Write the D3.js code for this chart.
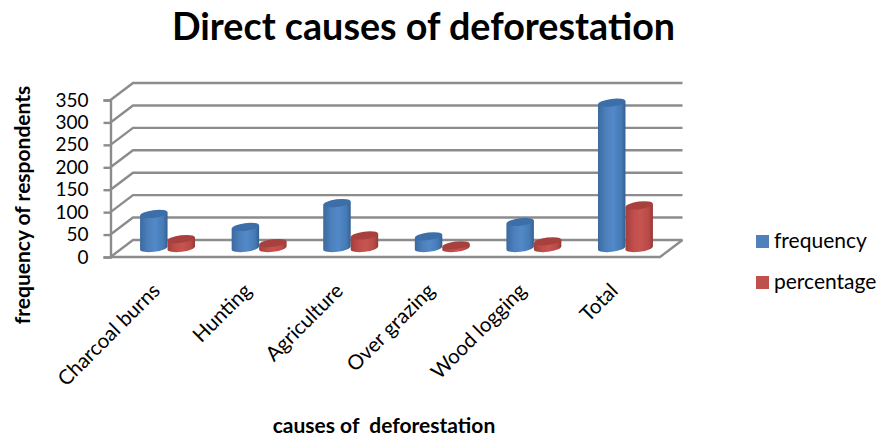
<!DOCTYPE html>
<html>
<head>
<meta charset="utf-8">
<script src="https://cdn.jsdelivr.net/npm/d3@7/dist/d3.min.js"></script>
<style>
html,body{margin:0;padding:0;background:#fff;}
svg{display:block;}
text{font-family:Lato,"Open Sans",sans-serif;fill:#000;}
</style>
</head>
<body>
<svg id="chart" width="886" height="437"></svg>
<script>
const categories = ["Charcoal burns","Hunting","Agriculture","Over grazing","Wood logging","Total"];
const frequency = [76,47,100,26,58,324];
const percentage = [20,11,28,6,15,95];
const yTicks = [0,50,100,150,200,250,300,350];
const seriesNames = ["frequency","percentage"];

const svg = d3.select("#chart");
const frontLeft = 110.5, frontRight = 660, floorY = 257, topY = 100;
const depthX = 22.5, depthY = 17;
const gridColor = "#8c8c8c";

const x = d3.scaleBand().domain(categories).range([frontLeft, frontRight]);
const y = d3.scaleLinear().domain([0,350]).range([floorY, topY]);

// Horizontal gradients give the cylinders their rounded shading
const defs = svg.append("defs");
function shade(id, stops){
  const g = defs.append("linearGradient").attr("id", id);
  stops.forEach(([o,c]) => g.append("stop").attr("offset", o).attr("stop-color", c));
}
shade("blueSide", [[0,"#3b6a9f"],[0.3,"#4d80bd"],[0.55,"#5289c8"],[0.85,"#457ab4"],[1,"#335f92"]]);
shade("redSide", [[0,"#a33f3c"],[0.3,"#c04e4b"],[0.55,"#c75450"],[0.85,"#b84a47"],[1,"#943936"]]);

// Gridlines run along the left wall and then across the back wall
const grid = svg.append("g").attr("fill","none").attr("stroke",gridColor).attr("stroke-width",2.4);
grid.selectAll("path").data(yTicks).join("path")
  .attr("d", d => `M${frontLeft},${y(d)}L${frontLeft+depthX},${y(d)-depthY}L${frontRight+depthX},${y(d)-depthY}`);
grid.append("path")
  .attr("d", `M${frontLeft},${floorY}L${frontRight},${floorY}L${frontRight+depthX},${floorY-depthY}`);

// Value axis on the front edge of the left wall
const yAxis = svg.append("g").attr("transform",`translate(${frontLeft},0)`)
  .call(d3.axisLeft(y).tickValues(yTicks).tickSize(7).tickPadding(15));
yAxis.selectAll("path,line").attr("stroke",gridColor).attr("stroke-width",2.4);
yAxis.selectAll("text").style("font-size","19px").style("font-family","Lato,sans-serif").attr("fill","#000");

// Cylinders stand midway across the floor depth
const midX = depthX/2, midY = depthY/2;
const radius = x.bandwidth()*0.15, ry = 3.8, tilt = -7;
const slope = radius*Math.sin(-tilt*Math.PI/180);
const groups = [
  {values:frequency, side:"url(#blueSide)", cap:"#3c6ea8", offset:-radius},
  {values:percentage, side:"url(#redSide)", cap:"#a8403d", offset:radius}
];
const bars = svg.append("g");
groups.forEach(s => {
  categories.forEach((c,i) => {
    const cx = x(c) + x.bandwidth()/2 + midX + s.offset;
    const base = floorY - midY - 0.5;
    const top = y(s.values[i]) - midY - 0.5;
    const b = bars.append("g");
    b.append("path")
      .attr("fill", s.side)
      .attr("d", `M${cx-radius},${top+slope}L${cx-radius},${base+slope}`+
        `A${radius},${ry} ${tilt} 0 0 ${cx+radius},${base-slope}L${cx+radius},${top-slope}Z`);
    b.append("ellipse")
      .attr("cx",cx).attr("cy",top).attr("rx",radius).attr("ry",ry)
      .attr("fill",s.cap)
      .attr("transform",`rotate(${tilt} ${cx} ${top})`);
  });
});

// Slanted category labels end just under their bars
const xLabels = svg.append("g");
xLabels.selectAll("text").data(categories).join("text")
  .attr("text-anchor","end")
  .attr("transform", d => `translate(${x(d)+x.bandwidth()/2+5},${floorY+35}) rotate(-45)`)
  .style("font-size","20.5px")
  .text(d => d);

// Titles
svg.append("text").attr("x",423.5).attr("y",40).attr("text-anchor","middle")
  .style("font-size","37.7px").style("font-weight","700").text("Direct causes of deforestation");
svg.append("text").attr("x",384).attr("y",433).attr("text-anchor","middle")
  .style("font-size","21px").style("font-weight","700").attr("xml:space","preserve").text("causes of  deforestation");
svg.append("text").attr("transform","translate(30,205) rotate(-90)").attr("text-anchor","middle")
  .style("font-size","21px").style("font-weight","700").text("frequency of respondents");

// Legend
const legendColors = d3.scaleOrdinal().domain(seriesNames).range(["#4f81bd","#c0504d"]);
const legendRow = d3.scalePoint().domain(seriesNames).range([235,276]);
const legend = svg.append("g").selectAll("g").data(seriesNames).join("g")
  .attr("transform", d => `translate(756,${legendRow(d)})`);
legend.append("rect").attr("width",13).attr("height",13).attr("fill",d => legendColors(d));
legend.append("text").attr("x",18).attr("y",13).style("font-size","21px").text(d => d);
</script>
</body>
</html>
